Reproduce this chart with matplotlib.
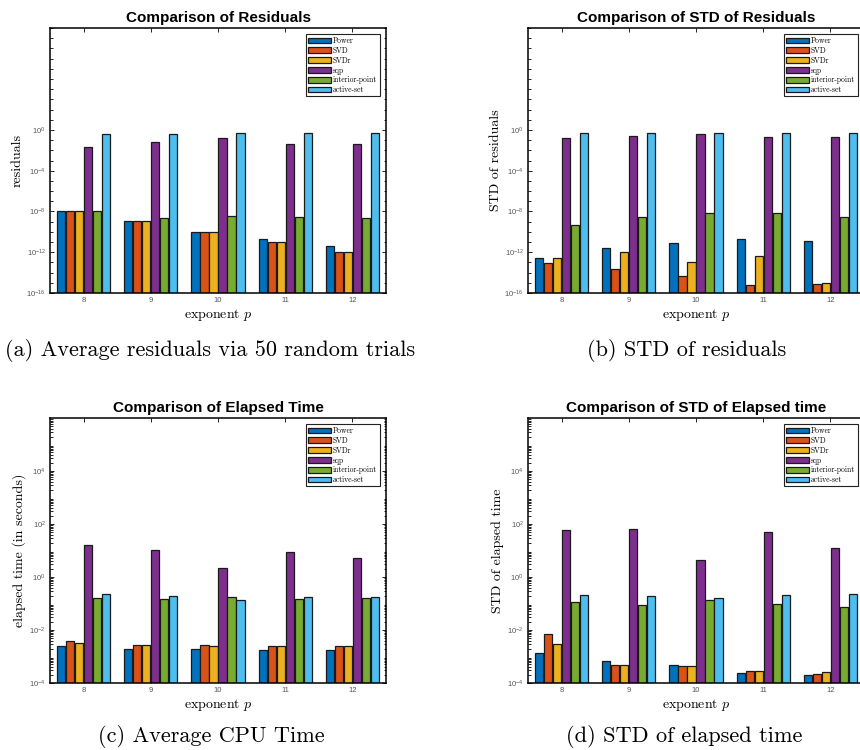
import numpy as np
import matplotlib
matplotlib.use('Agg')
import matplotlib.pyplot as plt
from matplotlib.ticker import FixedLocator, LogLocator, NullFormatter, LogFormatterSciNotation

plt.rcParams['font.family'] = ['Liberation Sans', 'DejaVu Sans']
plt.rcParams['axes.unicode_minus'] = True

exponents = [8, 9, 10, 11, 12]
methods = ['Power', 'SVD', 'SVDr', 'sqp', 'interior-point', 'active-set']
colors = ['#0072BD', '#D95319', '#EDB120', '#7E2F8E', '#77AC30', '#4DBEEE']

# (a) average residuals
res_power = [1.0e-8, 1.05e-9, 1.0e-10, 1.8e-11, 4.2e-12]
res_svd = [1.0e-8, 1.05e-9, 1.0e-10, 9.5e-12, 1.0e-12]
res_svdr = [1.0e-8, 1.05e-9, 1.0e-10, 9.5e-12, 1.0e-12]
res_sqp = [2.1e-2, 6.2e-2, 1.5e-1, 4.2e-2, 4.2e-2]
res_ip = [1.0e-8, 2.4e-9, 3.7e-9, 3.0e-9, 2.2e-9]
res_as = [3.7e-1, 4.1e-1, 5.5e-1, 4.7e-1, 5.5e-1]

# (b) std of residuals
sres_power = [3.0e-13, 2.7e-12, 8.3e-12, 2.2e-11, 1.4e-11]
sres_svd = [9.5e-14, 2.1e-14, 4.7e-15, 5.6e-16, 7.8e-16]
sres_svdr = [2.6e-13, 1.0e-12, 1.1e-13, 4.4e-13, 1.05e-15]
sres_sqp = [0.15, 0.26, 0.37, 0.22, 0.22]
sres_ip = [4.6e-10, 2.75e-9, 7.4e-9, 7.4e-9, 3.2e-9]
sres_as = [0.5, 0.5, 0.5, 0.5, 0.5]

# (c) average elapsed time
time_power = [2.6e-3, 2.0e-3, 1.9e-3, 1.8e-3, 1.8e-3]
time_svd = [4.0e-3, 2.7e-3, 2.7e-3, 2.6e-3, 2.6e-3]
time_svdr = [3.2e-3, 2.7e-3, 2.6e-3, 2.6e-3, 2.6e-3]
time_sqp = [15.5, 10.7, 2.2, 9.1, 5.0]
time_ip = [0.16, 0.15, 0.18, 0.15, 0.155]
time_as = [0.22, 0.19, 0.13, 0.17, 0.18]

# (d) std of elapsed time
stime_power = [1.35e-3, 6.6e-4, 4.9e-4, 2.45e-4, 1.95e-4]
stime_svd = [7.2e-3, 4.7e-4, 4.3e-4, 2.8e-4, 2.2e-4]
stime_svdr = [2.9e-3, 4.7e-4, 4.3e-4, 2.75e-4, 2.5e-4]
stime_sqp = [62, 66, 4.4, 49, 12.3]
stime_ip = [0.115, 0.085, 0.13, 0.093, 0.072]
stime_as = [0.21, 0.19, 0.166, 0.204, 0.23]

serif = dict(fontfamily='cmr10', math_fontfamily='cm')


def draw_panel(ax, series, title, ylabel, ylim, majors, minor_subs):
    x = np.array(exponents, dtype=float)
    pitch = 0.134
    for i, (vals, c, name) in enumerate(zip(series, colors, methods)):
        ax.bar(x + (i - 2.5) * pitch, vals, width=0.12, color=c,
               edgecolor='#1a1a1a', linewidth=0.9, label=name, zorder=2)
    ax.set_yscale('log')
    ax.set_xlim(7.5, 12.5)
    ax.set_ylim(*ylim)
    ax.set_xticks(exponents)
    ax.yaxis.set_major_locator(FixedLocator(majors))
    ax.yaxis.set_major_formatter(LogFormatterSciNotation())
    ax.yaxis.set_minor_locator(LogLocator(base=10, subs=minor_subs, numticks=100))
    ax.yaxis.set_minor_formatter(NullFormatter())
    ax.tick_params(which='both', direction='in', top=True, right=True,
                   labelsize=5.5, labelcolor='#555555', width=0.6)
    ax.tick_params(which='major', length=3, pad=3)
    ax.tick_params(which='minor', length=1.8)
    for s in ax.spines.values():
        s.set_linewidth(1.1)
    ax.set_title(title, fontsize=11, fontweight='bold', pad=4)
    ax.set_xlabel(r'exponent $p$', fontsize=10, labelpad=2, **serif)
    ax.set_ylabel(ylabel, fontsize=10, labelpad=2, **serif)
    leg = ax.legend(loc='upper right', prop={'family': 'cmr10', 'size': 5.5},
                    fancybox=False, framealpha=1, edgecolor='#222222',
                    handlelength=3.0, handleheight=0.8, handletextpad=0.3,
                    labelspacing=0.18, borderpad=0.3, borderaxespad=0.85)
    leg.get_frame().set_linewidth(0.8)


fig = plt.figure(figsize=(8.6, 7.5), dpi=100)
W, H = 860.0, 750.0
pos = [(50, 28), (528, 28), (50, 418), (528, 418)]
axes = [fig.add_axes([l / W, 1 - (t + 265) / H, 336 / W, 265 / H]) for l, t in pos]

top_majors = [1e-16, 1e-12, 1e-8, 1e-4, 1e0]
bot_majors = [1e-4, 1e-2, 1e0, 1e2, 1e4]

draw_panel(axes[0], [res_power, res_svd, res_svdr, res_sqp, res_ip, res_as],
           'Comparison of Residuals', 'residuals', (1e-16, 1e10), top_majors, (1.0,))
draw_panel(axes[1], [sres_power, sres_svd, sres_svdr, sres_sqp, sres_ip, sres_as],
           'Comparison of STD of Residuals', 'STD of residuals', (1e-16, 1e10), top_majors, (1.0,))
draw_panel(axes[2], [time_power, time_svd, time_svdr, time_sqp, time_ip, time_as],
           'Comparison of Elapsed Time', 'elapsed time (in seconds)', (1e-4, 1e6), bot_majors,
           np.arange(2, 10))
draw_panel(axes[3], [stime_power, stime_svd, stime_svdr, stime_sqp, stime_ip, stime_as],
           'Comparison of STD of Elapsed time', 'STD of elapsed time', (1e-4, 1e6), bot_majors,
           np.arange(2, 10))

captions = [(210, 350, '(a) Average residuals via 50 random trials'),
            (687, 350, '(b) STD of residuals'),
            (211, 737, '(c) Average CPU Time'),
            (684, 737, '(d) STD of elapsed time')]
for cx, cy, txt in captions:
    fig.text(cx / W, 1 - cy / H, txt, ha='center', va='center', fontsize=16, **serif)

fig.savefig('out.png', dpi=100)
